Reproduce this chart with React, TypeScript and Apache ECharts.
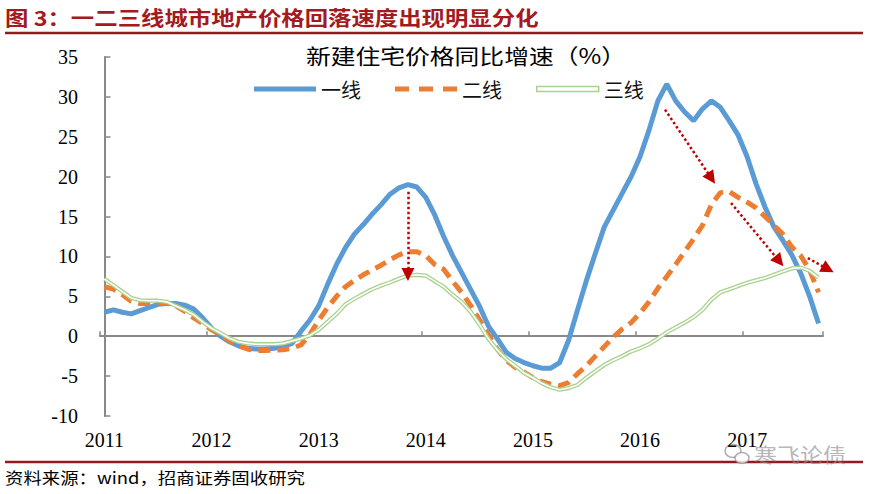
import React, { useEffect, useRef } from "react";
import * as echarts from "echarts";

// ---- data ----
const years = ["2011", "2012", "2013", "2014", "2015", "2016", "2017"];
const lastMonthOf2017 = 9;
const categories: string[] = [];
years.forEach((y) => {
  for (let m = 1; m <= 12; m++) {
    if (y === "2017" && m > lastMonthOf2017) break;
    categories.push(`${y}-${String(m).padStart(2, "0")}`);
  }
});

const tier1 = [
  3.0, 3.3, 3.0, 2.8, 3.2, 3.6, 4.0, 4.1, 4.1, 3.9, 3.4, 2.3, 1.0,
  0.0, -0.7, -1.2, -1.5, -1.6, -1.6, -1.5, -1.3, -0.9, 0.6, 2.0, 3.8,
  6.5, 9.0, 11.1, 12.8, 14.0, 15.3, 16.5, 17.8, 18.6, 19.0, 18.7, 17.4,
  15.2, 12.5, 10.1, 8.0, 5.9, 3.8, 1.3, -0.3, -2.0, -2.8, -3.3, -3.7,
  -4.0, -4.0, -3.3, -0.5, 3.3, 7.0, 10.4, 13.7, 15.8, 17.9, 20.0, 22.5,
  25.8, 29.5, 31.6, 29.5, 28.1, 27.0, 28.5, 29.5, 28.7, 27.0, 25.2, 22.5,
  19.1, 16.2, 13.7, 12.0, 10.2, 7.9, 5.0, 1.6,
];

const tier2 = [
  6.2, 5.9, 5.2, 4.4, 4.1, 4.1, 4.2, 4.1, 3.8, 3.1, 2.3, 1.6, 0.8,
  0.2, -0.6, -1.2, -1.6, -1.8, -1.8, -1.75, -1.7, -1.5, -1.1, 0.2, 2.0,
  3.6, 5.0, 6.2, 7.0, 7.7, 8.3, 8.9, 9.6, 10.2, 10.6, 10.6, 10.1,
  9.0, 8.4, 6.9, 5.5, 3.9, 2.1, 0.2, -1.6, -3.0, -3.9, -4.5, -5.2,
  -5.7, -6.0, -6.2, -5.8, -4.7, -3.7, -2.5, -1.3, -0.1, 0.9, 1.7, 2.9,
  4.3, 6.0, 7.5, 9.0, 10.6, 12.2, 13.9, 16.5, 18.0, 18.1, 17.4, 16.8,
  16.1, 15.0, 13.9, 12.8, 11.2, 10.1, 8.3, 5.5,
];

const tier3 = [
  7.2, 6.4, 5.6, 4.8, 4.5, 4.45, 4.45, 4.3, 3.8, 3.3, 2.7, 1.8, 1.0,
  0.4, -0.25, -0.7, -0.9, -1.0, -1.0, -1.0, -0.9, -0.6, -0.3, 0.1, 0.8,
  1.8, 2.8, 4.0, 4.7, 5.3, 5.9, 6.35, 6.75, 7.2, 7.6, 7.7, 7.6,
  6.9, 6.2, 5.2, 4.3, 3.1, 1.5, -0.3, -1.7, -2.85, -3.7, -4.6, -5.2,
  -5.9, -6.4, -6.7, -6.5, -6.1, -5.2, -4.4, -3.6, -3.0, -2.5, -1.9, -1.5,
  -1.0, -0.3, 0.5, 1.1, 1.7, 2.4, 3.3, 4.6, 5.5, 5.9, 6.3, 6.7,
  7.0, 7.3, 7.7, 8.1, 8.5, 8.6, 8.2, 7.3,
];

const seriesNames = ["一线", "二线", "三线"];
const yMin = -10;
const yMax = 35;
const yInterval = 5;

// annotation arrows in data coordinates: [monthIndexFrom, valueFrom, monthIndexTo, valueTo]
const arrows = [
  [34.0, 18.1, 34.0, 7.75],
  [62.8, 28.4, 68.0, 19.8],
  [70.2, 16.7, 75.6, 9.4],
  [78.8, 9.8, 81.05, 8.4],
];

const figureTitle = "图 3：一二三线城市地产价格回落速度出现明显分化";
const chartTitle = "新建住宅价格同比增速（%）";
const sourceText = "资料来源：wind，招商证券固收研究";
const watermark = "寒飞论债";

const CJK = "'Noto Sans CJK SC', 'Noto Sans', sans-serif";
const SERIF = "'Liberation Serif', 'DejaVu Serif', serif";
const AXIS_GRAY = "#898989";
const DARK_RED = "#931B1F";
const BLUE = "#5B9BD5";
const ORANGE = "#ED7D31";
const GREEN = "#A9D18E";

const solidIcon = "path://M0,0H62V5H0Z";
const dashIcon = "path://M0,0H14V5H0Z M24,0H38V5H24Z M48,0H62V5H48Z";

export default function App() {
  const ref = useRef<HTMLDivElement>(null);

  useEffect(() => {
    if (!ref.current) return;
    const chart = echarts.init(ref.current, undefined, { renderer: "svg" });
    const yearTick = (index: number) => index % 12 === 0;

    chart.setOption({
      animation: false,
      grid: { left: 100, right: 47, top: 57, bottom: 78, containLabel: false },
      legend: {
        left: 249,
        top: 74,
        itemWidth: 62,
        itemHeight: 14,
        itemGap: 34,
        textStyle: { fontSize: 20, fontFamily: CJK, color: "#111" },
        data: [
          { name: seriesNames[0], icon: solidIcon, itemStyle: { color: BLUE, borderWidth: 0 } },
          { name: seriesNames[1], icon: dashIcon, itemStyle: { color: ORANGE, borderWidth: 0 } },
          {
            name: seriesNames[2],
            icon: solidIcon,
            itemStyle: { color: "#ffffff", borderColor: GREEN, borderWidth: 1.4 },
          },
        ],
      },
      xAxis: [
        {
          type: "category",
          data: categories,
          boundaryGap: true,
          axisLine: { onZero: true, lineStyle: { color: AXIS_GRAY, width: 2 } },
          axisTick: {
            show: true,
            inside: true,
            length: 5,
            interval: yearTick,
            lineStyle: { color: AXIS_GRAY, width: 1.5 },
          },
          axisLabel: { show: false },
          splitLine: { show: false },
        },
        {
          type: "category",
          data: categories,
          boundaryGap: true,
          position: "bottom",
          axisLine: { show: false, onZero: false },
          axisTick: { show: false },
          axisLabel: {
            interval: yearTick,
            formatter: (v: string) => v.slice(0, 4),
            fontFamily: SERIF,
            fontSize: 20,
            color: "#000",
            margin: 14,
          },
          splitLine: { show: false },
        },
        {
          type: "value",
          min: -0.5,
          max: categories.length - 0.5,
          show: false,
        },
      ],
      yAxis: {
        type: "value",
        min: yMin,
        max: yMax,
        interval: yInterval,
        axisLine: { show: true, lineStyle: { color: AXIS_GRAY, width: 2 } },
        axisTick: { show: true, inside: true, length: 6, lineStyle: { color: AXIS_GRAY, width: 1.5 } },
        axisLabel: { fontFamily: SERIF, fontSize: 20, color: "#000", margin: 22 },
        splitLine: { show: false },
      },
      series: [
        {
          name: seriesNames[0],
          type: "line",
          data: tier1,
          symbol: "none",
          showSymbol: false,
          lineStyle: { color: BLUE, width: 5 },
          itemStyle: { color: BLUE },
          z: 2,
        },
        {
          name: seriesNames[1],
          type: "line",
          data: tier2,
          symbol: "none",
          showSymbol: false,
          lineStyle: { color: ORANGE, width: 5, type: [12, 7], cap: "butt" },
          itemStyle: { color: ORANGE },
          z: 3,
        },
        {
          name: seriesNames[2],
          type: "line",
          data: tier3,
          symbol: "none",
          showSymbol: false,
          lineStyle: { color: GREEN, width: 4.2 },
          itemStyle: { color: GREEN },
          z: 4,
        },
        {
          name: "三线_inner",
          type: "line",
          data: tier3,
          symbol: "none",
          showSymbol: false,
          lineStyle: { color: "#ffffff", width: 1.6 },
          itemStyle: { color: "#ffffff" },
          z: 5,
          silent: true,
        },
        {
          name: "arrows",
          type: "lines",
          coordinateSystem: "cartesian2d",
          xAxisIndex: 2,
          yAxisIndex: 0,
          symbol: ["none", "triangle"],
          symbolSize: 13,
          silent: true,
          clip: false,
          lineStyle: { color: "#C00000", width: 2.5, type: "dotted", opacity: 1, curveness: 0 },
          data: arrows.map((a) => ({ coords: [[a[0], a[1]], [a[2], a[3]]] })),
          z: 10,
        },
      ],
      graphic: [
        {
          type: "text",
          x: 5,
          y: 17,
          scaleX: 1.17,
          style: {
            text: figureTitle,
            fontSize: 20,
            fontWeight: "bold",
            fontFamily: CJK,
            fill: "#A31A20",
            verticalAlign: "middle",
          },
        },
        {
          type: "line",
          shape: { x1: 5, y1: 33, x2: 863, y2: 33 },
          style: { stroke: DARK_RED, lineWidth: 2.5 },
        },
        {
          type: "text",
          x: 466,
          y: 55,
          scaleX: 1.18,
          style: {
            text: chartTitle,
            fontSize: 21,
            fontFamily: CJK,
            fill: "#000",
            align: "center",
            verticalAlign: "middle",
          },
        },
        {
          type: "line",
          shape: { x1: 5, y1: 462, x2: 863, y2: 462 },
          style: { stroke: DARK_RED, lineWidth: 2.5 },
        },
        {
          type: "text",
          x: 5,
          y: 477,
          scaleX: 1.15,
          style: {
            text: sourceText,
            fontSize: 16,
            fontFamily: CJK,
            fill: "#000",
            verticalAlign: "middle",
          },
        },
        {
          type: "ellipse",
          shape: { cx: 733, cy: 451, rx: 8, ry: 6.5 },
          style: { fill: "none", stroke: "rgba(140,140,140,0.7)", lineWidth: 1.5 },
        },
        {
          type: "ellipse",
          shape: { cx: 742, cy: 458, rx: 7, ry: 5.5 },
          style: { fill: "rgba(255,255,255,0.8)", stroke: "rgba(140,140,140,0.7)", lineWidth: 1.5 },
        },
        {
          type: "text",
          x: 754,
          y: 454,
          scaleX: 1.15,
          style: {
            text: watermark,
            fontSize: 20,
            fontFamily: CJK,
            fill: "rgba(140,140,140,0.65)",
            verticalAlign: "middle",
          },
        },
      ],
    });

    return () => chart.dispose();
  }, []);

  return (
    <div
      ref={ref}
      style={{ position: "fixed", left: 0, top: 0, width: 870, height: 494, background: "#fff" }}
    />
  );
}
